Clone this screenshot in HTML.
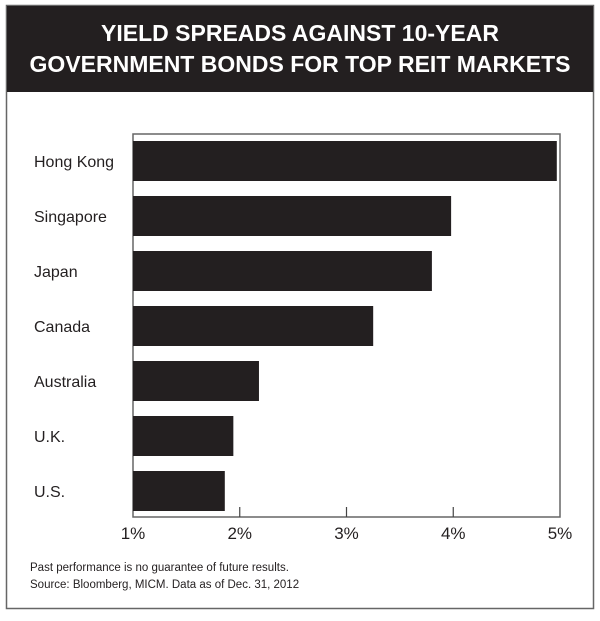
<!DOCTYPE html>
<html><head><meta charset="utf-8"><style>
body{margin:0;background:#fff;width:600px;height:616px;overflow:hidden;font-family:"Liberation Sans",sans-serif}
</style></head><body>
<svg width="600" height="616">
<rect x="6.5" y="5.5" width="587" height="603" fill="#fff" stroke="#666" stroke-width="1.5"/>
<rect x="7" y="6" width="586" height="86" fill="#231f20"/>
<text x="300" y="41" text-anchor="middle" fill="#fff" font-size="23" font-weight="bold">YIELD SPREADS AGAINST 10-YEAR</text>
<text x="300" y="72" text-anchor="middle" fill="#fff" font-size="23" font-weight="bold">GOVERNMENT BONDS FOR TOP REIT MARKETS</text>
<g id="plot"></g>
<text x="30" y="571" font-size="11.5" fill="#231f20">Past performance is no guarantee of future results.</text>
<text x="30" y="588" font-size="11.5" fill="#231f20">Source: Bloomberg, MICM. Data as of Dec. 31, 2012</text>
</svg>
<script>
const categories=["Hong Kong","Singapore","Japan","Canada","Australia","U.K.","U.S."];
const values=[4.97,3.98,3.80,3.25,2.18,1.94,1.86];
const ticks=[1,2,3,4,5];
const tickLabels=["1%","2%","3%","4%","5%"];
const ns="http://www.w3.org/2000/svg";
const g=document.getElementById('plot');
const L=133,R=560,T=134,B=517;
const x=v=>L+(v-1)/(5-1)*(R-L);
const pitch=55, bh=40, firstC=161;
function mk(t,a){const e=document.createElementNS(ns,t);for(const k in a)e.setAttribute(k,a[k]);g.appendChild(e);return e;}
const fr=mk('path',{d:`M${L},${B} L${L},${T} L${R},${T} L${R},${B} Z`,fill:'none',stroke:'#666','stroke-width':1.5});


categories.forEach((c,i)=>{
  const yc=firstC+pitch*i;
  const r=mk('rect',{x:L,y:yc-bh/2,width:x(values[i])-L,height:bh,fill:'#231f20'});
  
  
  const t=mk('text',{x:34,y:yc+6,'font-size':16,fill:'#231f20'});t.textContent=c;
  
  
});
ticks.forEach((v,i)=>{
  if(i>0&&i<ticks.length-1){const l=mk('line',{x1:x(v),x2:x(v),y1:B-10,y2:B,stroke:'#444','stroke-width':1.2});
  
  }
  const t=mk('text',{x:x(v),y:B+22,'font-size':17,'text-anchor':'middle',fill:'#231f20'});t.textContent=tickLabels[i];
  
  
});
</script>
</body></html>
